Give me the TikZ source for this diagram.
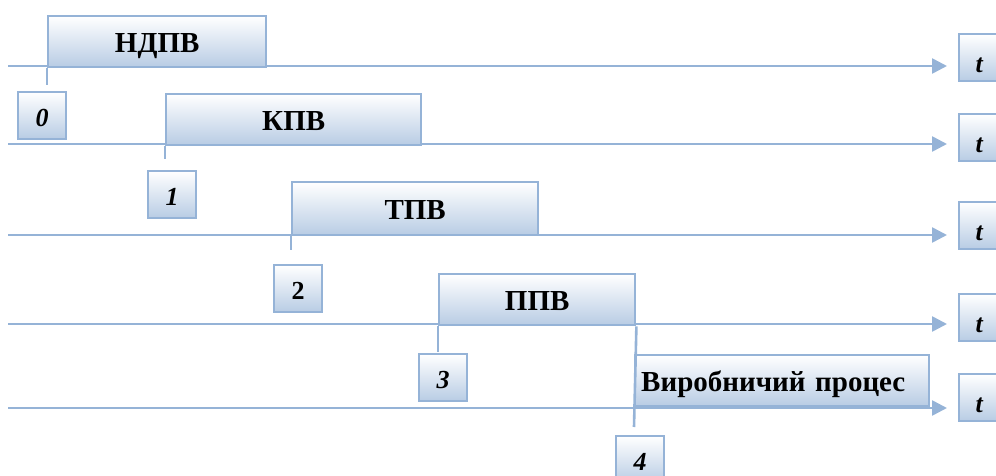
\documentclass[tikz,border=0pt]{standalone}
\usepackage{fontspec}
\setmainfont{Liberation Serif}
\usetikzlibrary{arrows.meta}
\definecolor{bline}{RGB}{149,179,215}
\definecolor{bfill}{RGB}{184,204,228}
\tikzset{
  axisline/.style={draw=bline, line width=2.6pt, -{Triangle[length=15pt,width=15pt]}},
  tickline/.style={draw=bline, line width=2.6pt},
  bigbox/.style={draw=bline, line width=2.4pt, top color=white, bottom color=bfill, anchor=north west, inner sep=0pt, text height=21pt, text depth=0pt, font=\fontsize{29}{33}\selectfont\bfseries},
  lbl/.style={draw=bline, line width=2.4pt, top color=white, bottom color=bfill, anchor=north west, inner sep=0pt, minimum width=48pt, minimum height=47pt, text height=22pt, text depth=0pt, font=\fontsize{26}{30}\selectfont\bfseries\itshape},
  tlbl/.style={lbl, text height=30pt, text depth=0pt},
}
\begin{document}
\begin{tikzpicture}[x=1pt,y=-1pt]
\useasboundingbox (0,0) rectangle (996,476);
% axes
\foreach \n/\y in {1/66,2/144,3/235,4/324,5/408}{
  \coordinate (s\n) at (8,\y);
  \coordinate (e\n) at (947,\y);
  \draw[axisline] (s\n) -- (e\n);
}
% big boxes
\node[bigbox, minimum width=218pt, minimum height=51pt] (b0) at (47,15) {НДПВ};
\node[bigbox, minimum width=255pt, minimum height=51pt] (b1) at (165,93) {КПВ};
\node[bigbox, minimum width=246pt, minimum height=53pt] (b2) at (291,181) {ТПВ};
\node[bigbox, minimum width=196pt, minimum height=51pt] (b3) at (438,273) {ППВ};
\node[bigbox, minimum width=294pt, minimum height=51pt, text width=294pt, align=left] (b4) at (634,354) {\hspace*{6pt}Виробничий процес};
% ticks
\coordinate (k0) at (47,85);
\coordinate (k1) at (165,159);
\coordinate (k2) at (291,250);
\coordinate (k3) at (438,352);
\coordinate (k4) at (634,427);
\draw[tickline] (b0.south west) -- (k0);
\draw[tickline] (b1.south west) -- (k1);
\draw[tickline] (b2.south west) -- (k2);
\draw[tickline] (b3.south west) -- (k3);
\draw[tickline] (b3.south east) -- (k4);
% labels
\node[lbl] (l0) at (17,91) {0};
\node[lbl] (l1) at (147,170) {1};
\node[lbl, font=\fontsize{26}{30}\selectfont\bfseries] (l2) at (273,264) {2};
\node[lbl] (l3) at (418,353) {3};
\node[lbl] (l4) at (615,435) {4};
% t boxes
\foreach \n/\y in {1/33,2/113,3/201,4/293,5/373}{
  \node[tlbl] (t\n) at (958,\y) {\hspace*{-8pt}t};
}
\end{tikzpicture}
\end{document}
